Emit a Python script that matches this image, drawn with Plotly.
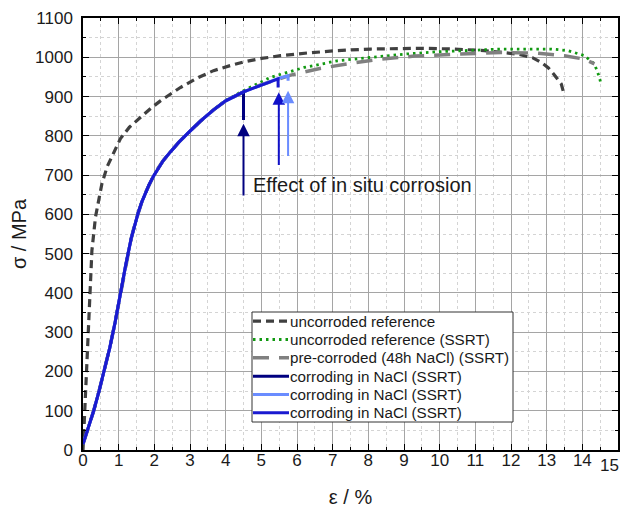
import plotly.graph_objects as go

# ---- data ----
ref_x = [0, 0.02, 0.06, 0.13, 0.19, 0.25, 0.35, 0.44, 0.53, 0.68, 0.85, 1.05, 1.3, 1.61, 1.9, 2.17,
         2.45, 2.73, 3.2, 3.66, 4.1, 4.5, 5.0, 5.54, 6.3, 7.13, 8.07, 9.48, 10.4, 11.25, 12.19,
         12.6, 12.85, 13.05, 13.2, 13.41, 13.5]
ref_y = [0, 43, 127, 254, 381, 508, 593, 640, 678, 722, 755, 793, 822, 847, 870, 889,
         907, 923, 947, 966, 978, 988, 997, 1004, 1011, 1017, 1021, 1023, 1021, 1017, 1008,
         999, 987, 973, 957, 932, 902]

ssrt_x = [0, 0.15, 0.3, 0.45, 0.6, 0.75, 0.9, 1.05, 1.2, 1.35, 1.45, 1.55, 1.65, 1.75, 1.85, 1.98,
          2.1, 2.25, 2.45, 2.7, 3.0, 3.3, 3.66, 4.0, 4.5, 5.26, 6.2, 7.13, 8.07, 9.0, 9.94, 10.79,
          11.72, 13.13, 13.6, 14.06, 14.34, 14.48, 14.53]
ssrt_y = [15, 55, 100, 150, 205, 260, 325, 400, 472, 538, 574, 605, 632, 655, 675, 698,
          717, 737, 759, 785, 812, 838, 867, 890, 915, 949, 974, 991, 1000, 1008, 1014, 1017,
          1021, 1021, 1017, 1004, 983, 949, 928]

pre_x = [0, 0.15, 0.3, 0.45, 0.6, 0.75, 0.9, 1.05, 1.2, 1.35, 1.45, 1.55, 1.65, 1.75, 1.85, 1.98,
         2.1, 2.25, 2.45, 2.7, 3.0, 3.3, 3.66, 4.0, 4.5, 5.0, 5.8, 6.67, 7.6, 8.35, 9.29, 10.13,
         10.79, 11.72, 12.66, 13.5, 14.06, 14.34]
pre_y = [15, 55, 100, 150, 205, 260, 325, 400, 472, 538, 574, 605, 632, 655, 675, 698,
         717, 737, 759, 785, 812, 838, 866, 889, 912, 930, 954, 972, 986, 995, 1003, 1007,
         1009, 1012, 1011, 1004, 995, 983]

cor1_x = [0, 0.15, 0.3, 0.45, 0.6, 0.75, 0.9, 1.05, 1.2, 1.35, 1.45, 1.55, 1.65, 1.75, 1.85, 1.98,
          2.1, 2.25, 2.45, 2.7, 3.0, 3.3, 3.66, 4.0, 4.5, 4.5]
cor1_y = [15, 55, 100, 150, 205, 260, 325, 400, 472, 538, 574, 605, 632, 655, 675, 698,
          717, 737, 759, 785, 812, 838, 866, 889, 912, 840]

cor2_x = [0, 0.15, 0.3, 0.45, 0.6, 0.75, 0.9, 1.05, 1.2, 1.35, 1.45, 1.55, 1.65, 1.75, 1.85, 1.98,
          2.1, 2.25, 2.45, 2.7, 3.0, 3.3, 3.66, 4.0, 4.5, 5.0, 5.47, 5.75, 5.75]
cor2_y = [15, 55, 100, 150, 205, 260, 325, 400, 472, 538, 574, 605, 632, 655, 675, 698,
          717, 737, 759, 785, 812, 838, 866, 889, 912, 930, 946, 953, 940]

cor3_x = [0, 0.15, 0.3, 0.45, 0.6, 0.75, 0.9, 1.05, 1.2, 1.35, 1.45, 1.55, 1.65, 1.75, 1.85, 1.98,
          2.1, 2.25, 2.45, 2.7, 3.0, 3.3, 3.66, 4.0, 4.5, 5.0, 5.47, 5.47]
cor3_y = [15, 55, 100, 150, 205, 260, 325, 400, 472, 538, 574, 605, 632, 655, 675, 698,
          717, 737, 759, 785, 812, 838, 866, 889, 912, 930, 945, 923]

arrow_x = [4.5, 5.49, 5.75]
arrow_tail = [644, 722, 745]
arrow_tip = [831, 911, 915]

series_names = ["uncorroded reference", "uncorroded reference (SSRT)",
                "pre-corroded (48h NaCl) (SSRT)", "corroding in NaCl (SSRT)",
                "corroding in NaCl (SSRT)", "corroding in NaCl (SSRT)"]

x_ticks = list(range(0, 16))
x_tick_labels = [str(v) for v in x_ticks]
y_ticks = list(range(0, 1101, 100))
y_tick_labels = [str(v) for v in y_ticks]

# ---- styles ----
FONT = "Liberation Sans, Arial, sans-serif"
TXT = "#1a1a1a"
styles = [
    dict(color="#404040", width=3.2, dash="8px,5px"),
    dict(color="#119911", width=2.8, dash="2.5px,4px"),
    dict(color="#808080", width=3.5, dash="16px,10px"),
    dict(color="#000080", width=3),
    dict(color="#6a8cff", width=3),
    dict(color="#1a1ad0", width=3),
]
arrow_colors = ["#000080", "#1010c8", "#6a8cff"]

# The page body has an 8px margin on every side; keep the figure inside the window.
OFF = 8
W_PX, H_PX = 630 - 2 * OFF, 516 - 2 * OFF
# plot area in window pixels
L, R, T, B = 83, 618, 18, 450


def px2paper(px, py):
    return (px - L) / (R - L), (B - py) / (B - T)


series = [(ref_x, ref_y), (ssrt_x, ssrt_y), (pre_x, pre_y),
          (cor1_x, cor1_y), (cor2_x, cor2_y), (cor3_x, cor3_y)]

fig = go.Figure()
for (xs, ys), nm, st in zip(series, series_names, styles):
    fig.add_trace(go.Scatter(x=xs, y=ys, mode="lines", name=nm, line=st, showlegend=False))

for xa, t0, t1, c in zip(arrow_x, arrow_tail, arrow_tip, arrow_colors):
    fig.add_annotation(x=xa, y=t1, ax=xa, ay=t0, xref="x", yref="y", axref="x", ayref="y",
                       showarrow=True, arrowhead=2, arrowsize=1.25, arrowwidth=2,
                       arrowcolor=c, standoff=0, text="")

fig.add_annotation(x=4.72, y=674, xref="x", yref="y", text="Effect of in situ corrosion",
                   showarrow=False, xanchor="left", yanchor="middle",
                   font=dict(family=FONT, size=20, color=TXT))

# ---- legend box drawn in paper coordinates ----
box_l, box_r, box_t, box_b = 252, 513, 312, 422
x0, y0 = px2paper(box_l, box_b)
x1, y1 = px2paper(box_r, box_t)
fig.add_shape(type="rect", xref="paper", yref="paper", x0=x0, y0=y0, x1=x1, y1=y1,
              line=dict(color="#333333", width=1), fillcolor="white", layer="above")
row_h = (box_b - box_t) / len(series_names)
for i, (nm, st) in enumerate(zip(series_names, styles)):
    cy = box_t + row_h * (i + 0.5)
    lx0, ly = px2paper(box_l + 1, cy)
    lx1, _ = px2paper(box_l + 37, cy)
    fig.add_shape(type="line", xref="paper", yref="paper", x0=lx0, y0=ly, x1=lx1, y1=ly,
                  line=st, layer="above")
    tx, _ = px2paper(box_l + 36, cy)
    fig.add_annotation(x=tx, y=ly, xref="paper", yref="paper", text=nm, showarrow=False,
                       xanchor="left", yanchor="middle",
                       font=dict(family=FONT, size=15.2, color=TXT))

# the last x tick label would spill past the page edge: draw it right-aligned inside
last_x, last_y = px2paper(621, 465)
fig.add_annotation(x=last_x, y=last_y, xref="paper", yref="paper", text=x_tick_labels[-1],
                   showarrow=False, xanchor="right", yanchor="middle",
                   font=dict(family=FONT, size=17, color=TXT))

axis_common = dict(
    showline=True, linecolor="black", linewidth=1.5, mirror="allticks",
    ticks="inside", ticklen=6, tickwidth=1.2, tickcolor="black",
    showgrid=True, gridcolor="#a5a5a5", gridwidth=1, zeroline=False,
    tickfont=dict(family=FONT, size=17, color=TXT), automargin=False,
)

fig.update_xaxes(range=[0, 15], tickvals=x_ticks, ticktext=x_tick_labels[:-1] + [""],
                 minor=dict(dtick=0.5, tick0=0, showgrid=True, gridcolor="#d4d4d4", griddash="dot",
                            ticks="inside", ticklen=3, tickcolor="black"),
                 title=dict(text="ε / %", font=dict(family=FONT, size=20, color=TXT), standoff=32),
                 ticklabelstandoff=-6,
                 **axis_common)
fig.update_yaxes(range=[0, 1100], tickvals=y_ticks, ticktext=y_tick_labels,
                 minor=dict(dtick=50, tick0=0, showgrid=True, gridcolor="#d4d4d4", griddash="dot",
                            ticks="inside", ticklen=3, tickcolor="black"),
                 title=dict(text="σ / MPa", font=dict(family=FONT, size=20, color=TXT), standoff=14),
                 ticklabelstandoff=5,
                 **axis_common)

fig.update_layout(
    width=W_PX, height=H_PX,
    margin=dict(l=L - OFF, r=W_PX - (R - OFF), t=T - OFF, b=H_PX - (B - OFF),
                autoexpand=False),
    paper_bgcolor="white", plot_bgcolor="white",
    font=dict(family=FONT, size=14, color=TXT),
    showlegend=False,
)

fig.write_html("out.html")
